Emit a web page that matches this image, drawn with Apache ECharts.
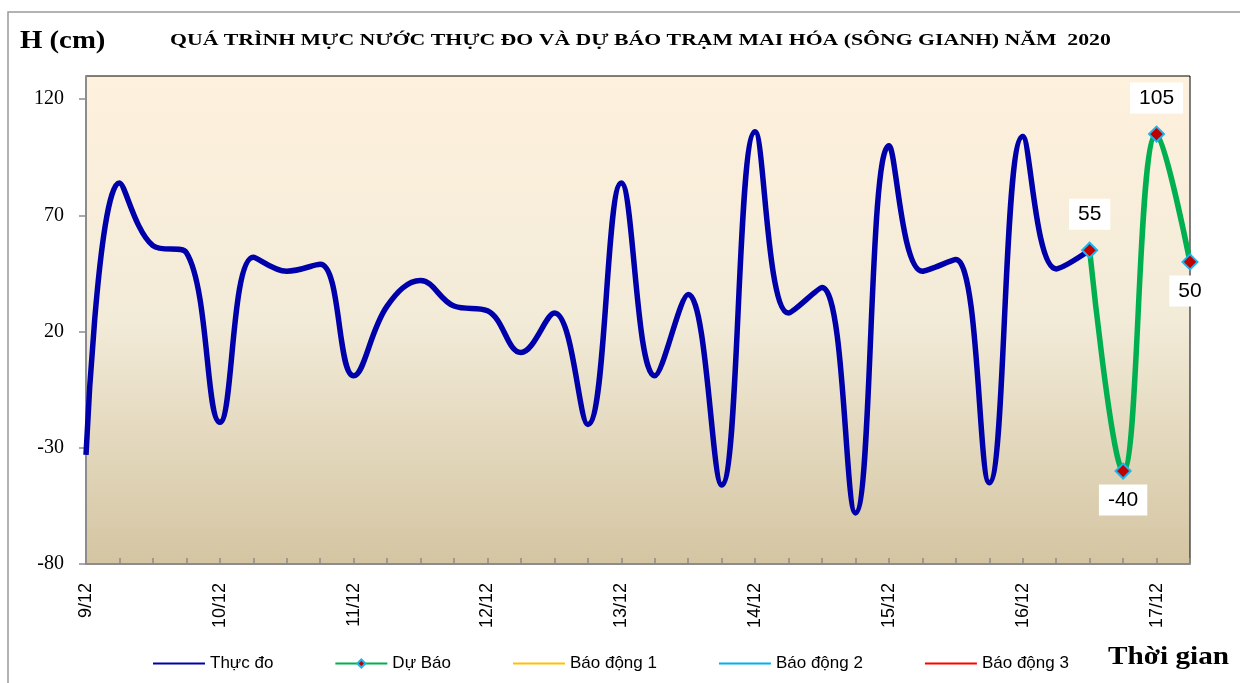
<!DOCTYPE html>
<html>
<head>
<meta charset="utf-8">
<title>Mực nước Mai Hóa</title>
<script src="https://cdn.jsdelivr.net/npm/echarts@6/dist/echarts.min.js"></script>
<style>
  html, body { margin: 0; padding: 0; background: #fff; }
  #chart { width: 1240px; height: 683px; }
</style>
</head>
<body>
<div id="chart"></div>
<script>
// ngày trên trục hoành, mỗi ngày 4 số liệu (0h, 6h, 12h, 18h)
var days = ["9/12", "10/12", "11/12", "12/12", "13/12", "14/12", "15/12", "16/12", "17/12"];
var hours = ["0h", "6h", "12h", "18h"];

// thực đo: 9/12 0h -> 16/12 12h
var thucDo = [-33, 84, 57, 54, -19, 52, 46, 49, 1, 31, 42, 31, 29, 11, 28, -20,
              84, 1, 36, -46, 106, 28, 39, -58, 100, 46, 51, -45, 104, 47, 55];
// dự báo: 16/12 12h -> 17/12 6h
var duBao = [55, -40, 105, 50];
var duBaoLabelPos = ["top", "bottom", "top", "bottom"];

var yTicks = { min: -80, max: 130, interval: 50 };

var categories = [];
days.forEach(function (d, i) {
   hours.forEach(function (h, j) {
      if (i < days.length - 1 || j < 2) categories.push(j === 0 ? d : d + " " + h);
   });
});

var duBaoData = categories.map(function () { return null; });
var start = thucDo.length - 1;
duBao.forEach(function (v, k) {
   var pos = duBaoLabelPos[k];
   duBaoData[start + k] = {
      value: v,
      label: { position: pos, distance: pos === "top" ? 12 : 5 }
   };
});

var chart = echarts.init(document.getElementById("chart"));

var serifBold = function (size) {
   return { fontFamily: "Liberation Serif", fontWeight: "bold", fontSize: size, fill: "#000" };
};

chart.setOption({
   animation: false,
   backgroundColor: "#fff",
   graphic: [
      {
         type: "rect",
         shape: { x: 8, y: 12, width: 1260, height: 700 },
         style: { fill: null, stroke: "#9a9a9a", lineWidth: 1.5 },
         silent: true
      },
      {
         type: "text",
         x: 170, y: 33, scaleX: 1.36,
         style: Object.assign({ text: "QUÁ TRÌNH MỰC NƯỚC THỰC ĐO VÀ DỰ BÁO TRẠM MAI HÓA (SÔNG GIANH) NĂM  2020" }, serifBold(16))
      },
      {
         type: "text",
         x: 20, y: 29, scaleX: 1.15,
         style: Object.assign({ text: "H (cm)" }, serifBold(25))
      },
      {
         type: "text",
         x: 1108, y: 645, scaleX: 1.17,
         style: Object.assign({ text: "Thời gian" }, serifBold(25))
      }
   ],
   grid: {
      left: 86,
      right: 50,
      top: 76,
      bottom: 119,
      show: true,
      borderColor: "#000",
      borderWidth: 1,
      backgroundColor: new echarts.graphic.LinearGradient(0, 0, 0, 1, [
         { offset: 0, color: "#fef1dd" },
         { offset: 0.5, color: "#f2ebd8" },
         { offset: 1, color: "#d4c5a2" }
      ])
   },
   legend: {
      left: 147,
      top: 650,
      itemWidth: 52,
      itemHeight: 10,
      itemGap: 61,
      lineStyle: { width: 2 },
      textStyle: { fontFamily: "Liberation Sans", fontSize: 17, color: "#000" },
      data: [
         { name: "Thực đo", itemStyle: { opacity: 0 } },
         { name: "Dự Báo" },
         { name: "Báo động 1", itemStyle: { opacity: 0 } },
         { name: "Báo động 2", itemStyle: { opacity: 0 } },
         { name: "Báo động 3", itemStyle: { opacity: 0 } }
      ]
   },
   xAxis: {
      type: "category",
      data: categories,
      boundaryGap: false,
      axisLine: { onZero: false, lineStyle: { color: "#8c8c8c", width: 2 } },
      axisTick: { inside: true, length: 6, interval: 0, lineStyle: { color: "#8c8c8c", width: 1.5 } },
      axisLabel: {
         interval: 3,
         rotate: 90,
         margin: 19,
         fontFamily: "Liberation Sans",
         fontSize: 18,
         color: "#000",
         formatter: function (v) { return v.split(" ")[0]; }
      },
      splitLine: { show: false }
   },
   yAxis: {
      type: "value",
      min: yTicks.min,
      max: yTicks.max,
      interval: yTicks.interval,
      axisLine: { show: true, lineStyle: { color: "#8c8c8c", width: 2 } },
      axisTick: { show: true, length: 7, lineStyle: { color: "#8c8c8c", width: 1.5 } },
      axisLabel: {
         showMaxLabel: false,
         margin: 22,
         fontFamily: "Liberation Serif",
         fontSize: 20,
         color: "#000"
      },
      splitLine: { show: false }
   },
   series: [
      {
         name: "Thực đo",
         type: "line",
         data: thucDo,
         smooth: 0.4,
         symbol: "none",
         color: "#0000aa",
         lineStyle: { color: "#0000aa", width: 5.5 },
         z: 2
      },
      {
         name: "Dự Báo",
         type: "line",
         data: duBaoData,
         smooth: 0.4,
         symbol: "diamond",
         symbolSize: 15,
         showSymbol: true,
         color: "#00b050",
         lineStyle: { color: "#00b050", width: 5.5 },
         itemStyle: { color: "#c00000", borderColor: "#1ab4ee", borderWidth: 2 },
         label: {
            show: true,
            fontFamily: "Liberation Sans",
            fontSize: 21,
            color: "#000",
            backgroundColor: "#fff",
            padding: [5, 9]
         },
         z: 3
      },
      { name: "Báo động 1", type: "line", data: [], symbol: "none", color: "#ffc000", lineStyle: { color: "#ffc000", width: 2 } },
      { name: "Báo động 2", type: "line", data: [], symbol: "none", color: "#00b0f0", lineStyle: { color: "#00b0f0", width: 2 } },
      { name: "Báo động 3", type: "line", data: [], symbol: "none", color: "#ff0000", lineStyle: { color: "#ff0000", width: 2 } }
   ]
});
</script>
</body>
</html>
